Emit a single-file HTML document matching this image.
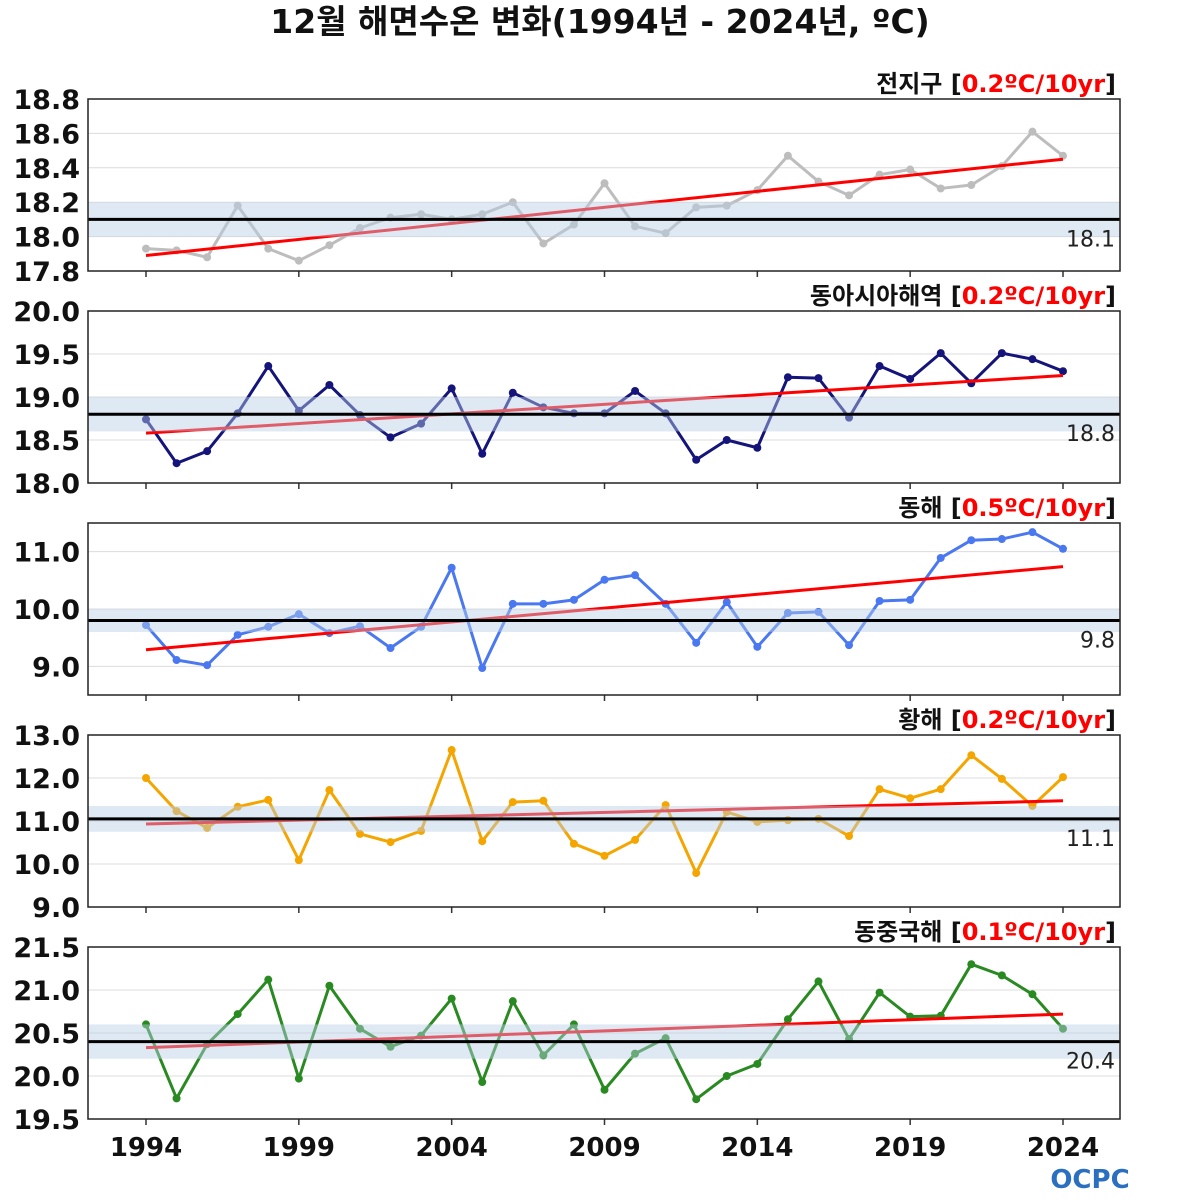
<!DOCTYPE html>
<html><head><meta charset="utf-8">
<style>
html,body{margin:0;padding:0;background:#fff;}
svg{display:block;font-family:"DejaVu Sans","Noto Sans CJK KR",sans-serif;}
</style></head>
<body>
<svg id="chart" width="1200" height="1200" viewBox="0 0 1200 1200" xmlns="http://www.w3.org/2000/svg">
<text x="600" y="33" text-anchor="middle" font-size="33" font-weight="bold" fill="#111">12월 해면수온 변화(1994년 - 2024년, ºC)</text>
<g id="panels"></g>
<g>
<text x="1090" y="1188" text-anchor="middle" font-size="26" font-weight="bold" fill="#2a6fc0">OCPC</text>
</g>
</svg>
<script>
const years = [];
for (let y = 1994; y <= 2024; y++) years.push(y);
const globalVals = [17.93,17.92,17.88,18.18,17.93,17.86,17.95,18.05,18.11,18.13,18.10,18.13,18.20,17.96,18.07,18.31,18.06,18.02,18.17,18.18,18.27,18.47,18.32,18.24,18.36,18.39,18.28,18.30,18.41,18.61,18.47];
const eastAsiaVals = [18.74,18.23,18.37,18.81,19.36,18.84,19.14,18.79,18.53,18.69,19.10,18.34,19.05,18.88,18.81,18.81,19.07,18.81,18.27,18.50,18.41,19.23,19.22,18.76,19.36,19.21,19.51,19.16,19.51,19.44,19.30];
const eastSeaVals = [9.72,9.11,9.02,9.55,9.69,9.91,9.58,9.70,9.32,9.69,10.72,8.97,10.09,10.09,10.16,10.51,10.59,10.09,9.41,10.12,9.34,9.93,9.95,9.37,10.14,10.16,10.89,11.20,11.22,11.34,11.05];
const yellowSeaVals = [12.00,11.23,10.84,11.33,11.49,10.09,11.72,10.70,10.51,10.77,12.65,10.53,11.44,11.47,10.47,10.19,10.56,11.37,9.79,11.21,10.98,11.02,11.05,10.65,11.74,11.53,11.74,12.53,11.98,11.35,12.02];
const ecsVals = [20.60,19.74,20.37,20.72,21.12,19.97,21.05,20.55,20.34,20.47,20.90,19.93,20.87,20.24,20.60,19.84,20.26,20.44,19.73,20.00,20.14,20.66,21.10,20.43,20.97,20.69,20.70,21.30,21.17,20.95,20.55];
const panelNames = ["전지구","동아시아해역","동해","황해","동중국해"];
const trendLabels = ["0.2ºC/10yr","0.2ºC/10yr","0.5ºC/10yr","0.2ºC/10yr","0.1ºC/10yr"];
const baselines = [18.1,18.8,9.8,11.05,20.4];
const baselineLabels = ["18.1","18.8","9.8","11.1","20.4"];
const trendStart = [17.89,18.58,9.29,10.93,20.33];
const trendEnd = [18.45,19.25,10.74,11.47,20.72];
const yMins = [17.8,18.0,8.5,9.0,19.5];
const yMaxs = [18.8,20.0,11.5,13.0,21.5];
const yTicks = [[17.8,18.0,18.2,18.4,18.6,18.8],[18.0,18.5,19.0,19.5,20.0],[9.0,10.0,11.0],[9.0,10.0,11.0,12.0,13.0],[19.5,20.0,20.5,21.0,21.5]];
const bandHalf = [0.1,0.2,0.2,0.3,0.2];
const seriesColors = ["#bdbdbd","#14147a","#4a78f0","#f5a500","#2a8a22"];
const allSeries = [globalVals,eastAsiaVals,eastSeaVals,yellowSeaVals,ecsVals];
const xTickYears = [1994,1999,2004,2009,2014,2019,2024];

const NS = "http://www.w3.org/2000/svg";
const X0 = 88, X1 = 1120, PH = 172;
const panelTops = [99,311,523,735,947];
const xs = y => 146 + (y - 1994) * (1063 - 146) / 30;
function mk(tag, attrs, parent){ const e=document.createElementNS(NS,tag); for(const k in attrs) e.setAttribute(k,attrs[k]); parent.appendChild(e); return e; }
const root = document.getElementById("panels");

allSeries.forEach((vals, p) => {
  const top = panelTops[p], bot = top + PH;
  const ys = v => bot - (v - yMins[p]) / (yMaxs[p] - yMins[p]) * PH;
  const g = mk("g", {}, root);
  
  
  yTicks[p].forEach(t => {
    const l = mk("line",{x1:X0,x2:X1,y1:ys(t),y2:ys(t),stroke:"#dcdcdc","stroke-width":1},g);
    
    
    const tx = mk("text",{x:80,y:ys(t)+10,"text-anchor":"end","font-size":27,"font-weight":"bold",fill:"#111"},g);
    tx.textContent = t.toFixed(1);
    
    
  });
  xTickYears.forEach(yr => {
    const l = mk("line",{x1:xs(yr),x2:xs(yr),y1:bot,y2:bot+6,stroke:"#333","stroke-width":1.5},g);
    
    
  });
  const pts = vals.map((v,i)=>xs(years[i])+","+ys(v)).join(" ");
  const line = mk("polyline",{points:pts,fill:"none",stroke:seriesColors[p],"stroke-width":3,"stroke-linejoin":"round"},g);
  
  
  vals.forEach((v,i)=>{
    const c = mk("circle",{cx:xs(years[i]),cy:ys(v),r:4,fill:seriesColors[p]},g);
    
    
  });
  const tr = mk("line",{x1:xs(1994),y1:ys(trendStart[p]),x2:xs(2024),y2:ys(trendEnd[p]),stroke:"#f00","stroke-width":3},g);
  
  
  const b = mk("rect",{x:X0,y:ys(baselines[p]+bandHalf[p]),width:X1-X0,height:ys(baselines[p]-bandHalf[p])-ys(baselines[p]+bandHalf[p]),fill:"#b8cfe6","fill-opacity":0.45},g);
  
  
  const bl = mk("line",{x1:X0,x2:X1,y1:ys(baselines[p]),y2:ys(baselines[p]),stroke:"#000","stroke-width":3},g);
  
  
  const blt = mk("text",{x:1115,y:ys(baselines[p])+27,"text-anchor":"end","font-size":22,fill:"#222"},g);
  blt.textContent = baselineLabels[p];
  
  
  const fr = mk("rect",{x:X0,y:top,width:X1-X0,height:PH,fill:"none",stroke:"#222","stroke-width":1.5},g);
  
  
  const t = mk("text",{x:1116,y:top-7,"text-anchor":"end","font-size":24,"font-weight":"bold",fill:"#111"},g);
  
  
  const s1 = mk("tspan",{},t); s1.textContent = panelNames[p] + " [";
  const s2 = mk("tspan",{fill:"#f00"},t); s2.textContent = trendLabels[p];
  const s3 = mk("tspan",{},t); s3.textContent = "]";
});
xTickYears.forEach(yr => {
  const t = mk("text",{x:xs(yr),y:1156,"text-anchor":"middle","font-size":26,"font-weight":"bold",fill:"#111"},root);
  t.textContent = yr;
  
  
});
</script>
</body></html>
